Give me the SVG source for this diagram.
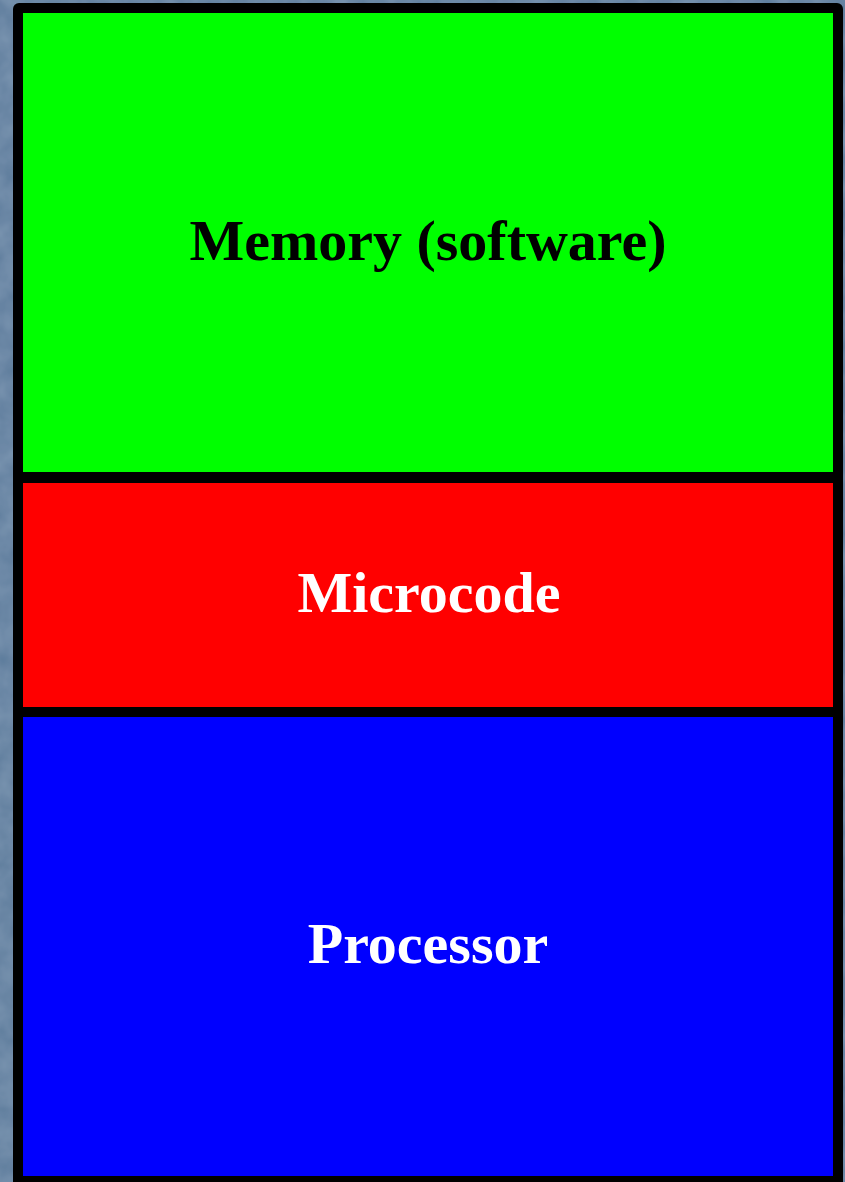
<svg xmlns="http://www.w3.org/2000/svg" width="845" height="1182" viewBox="0 0 845 1182">
  <style>
    .label { font-family: "Liberation Serif", "Times New Roman", serif; font-weight: bold; font-size: 58px; text-anchor: middle; }
    .dark { fill: #000000; }
    .light { fill: #ffffff; }
  </style>
  <defs>
    <filter id="mottle" x="0" y="0" width="100%" height="100%">
      <feTurbulence type="fractalNoise" baseFrequency="0.04" numOctaves="3" seed="7" result="noise"/>
      <feColorMatrix in="noise" type="matrix" values="0 0 0 0 0.40  0 0 0 0 0.53  0 0 0 0 0.68  0 0 0 0.35 0" result="tint"/>
      <feComposite in="tint" in2="SourceGraphic" operator="atop"/>
    </filter>
  </defs>

  <!-- slate-blue backdrop -->
  <rect x="0" y="0" width="845" height="1182" fill="#587899" filter="url(#mottle)"/>

  <!-- black frame behind the three layers -->
  <rect x="13" y="3" width="830" height="1200" rx="6" ry="6" fill="#000000"/>

  <g id="memory">
    <rect x="23" y="13" width="810" height="459" fill="#00ff00"/>
    <text class="label dark" x="428" y="260">Memory (software)</text>
  </g>

  <g id="microcode">
    <rect x="23" y="483" width="810" height="224" fill="#ff0000"/>
    <text class="label light" x="429" y="612">Microcode</text>
  </g>

  <g id="processor">
    <rect x="23" y="717" width="810" height="459" fill="#0000ff"/>
    <text class="label light" x="428" y="963">Processor</text>
  </g>

  <g id="connectors"/>
</svg>
